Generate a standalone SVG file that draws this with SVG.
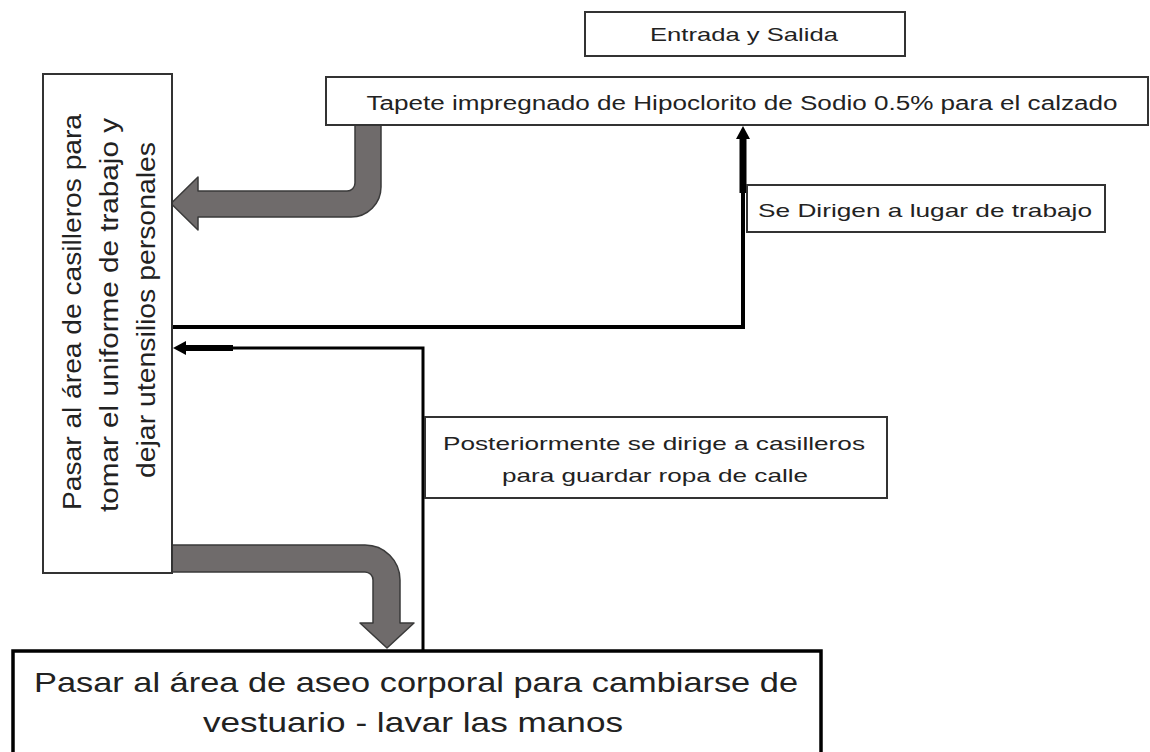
<svg xmlns="http://www.w3.org/2000/svg" width="1150" height="752" viewBox="0 0 1150 752">
<style>
.box{fill:#fff;stroke:#333;stroke-width:2}
.t{font-family:"Liberation Sans",Arial,sans-serif;fill:#222;text-anchor:middle}
.gray{fill:#6f6b6b;stroke:#3a3a3a;stroke-width:1.5;stroke-linejoin:round}
.ln{fill:none;stroke:#000}
</style>
<rect width="1150" height="752" fill="#fff"/>
<g id="connectors">
  <path class="gray" d="M355,125 L381,125 L381,187 A30,30 0 0 1 351,217 L198,217 L198,230 L171,203.5 L198,177 L198,191 L347,191 A8,8 0 0 0 355,183 Z"/>
  <path class="gray" d="M172,545 L365,545 A35,35 0 0 1 400,580 L400,623 L414,623 L387,648 L360,623 L373,623 L373,580 A8,8 0 0 0 365,572 L172,572 Z"/>
  <polyline class="ln" stroke-width="4" points="172,327 743,327 743,136"/>
  <rect x="739.5" y="136" width="7" height="57" fill="#000"/>
  <path d="M743,126 L750,139 L736,139 Z" fill="#000"/>
  <polyline class="ln" stroke-width="3" points="423,652 423,348 233,348"/>
  <rect x="184" y="345" width="49" height="6" fill="#000"/>
  <path d="M173,348 L186,341 L186,355 Z" fill="#000"/>
</g>
<g id="entrada">
  <rect class="box" x="585" y="12" width="320" height="44"/>
  <text class="t" x="744" y="41" font-size="19" textLength="188" lengthAdjust="spacingAndGlyphs">Entrada y Salida</text>
</g>
<g id="tapete">
  <rect class="box" x="326" y="77" width="822" height="48"/>
  <text class="t" x="742" y="110" font-size="20" textLength="751" lengthAdjust="spacingAndGlyphs">Tapete impregnado de Hipoclorito de Sodio 0.5% para el calzado</text>
</g>
<g id="casilleros">
  <rect class="box" x="43" y="74" width="129" height="499"/>
  <text class="t" font-size="25" transform="translate(81,312) rotate(-90)" textLength="396" lengthAdjust="spacingAndGlyphs">Pasar al área de casilleros para</text>
  <text class="t" font-size="25" transform="translate(118,315) rotate(-90)" textLength="394" lengthAdjust="spacingAndGlyphs">tomar el uniforme de trabajo y</text>
  <text class="t" font-size="25" transform="translate(155,310) rotate(-90)" textLength="336" lengthAdjust="spacingAndGlyphs">dejar utensilios personales</text>
</g>
<g id="dirigen">
  <rect class="box" x="747" y="185" width="358" height="47"/>
  <text class="t" x="925" y="217" font-size="19" textLength="334" lengthAdjust="spacingAndGlyphs">Se Dirigen a lugar de trabajo</text>
</g>
<g id="posteriormente">
  <rect class="box" x="425" y="417" width="462" height="81"/>
  <text class="t" x="654" y="450" font-size="19" textLength="422" lengthAdjust="spacingAndGlyphs">Posteriormente se dirige a casilleros</text>
  <text class="t" x="655" y="482" font-size="19" textLength="306" lengthAdjust="spacingAndGlyphs">para guardar ropa de calle</text>
</g>
<g id="aseo">
  <rect x="13" y="651" width="808" height="105" fill="#fff" stroke="#000" stroke-width="3.5"/>
  <text class="t" x="416" y="692" font-size="28" textLength="764" lengthAdjust="spacingAndGlyphs">Pasar al área de aseo corporal para cambiarse de</text>
  <text class="t" x="413" y="732" font-size="28" textLength="420" lengthAdjust="spacingAndGlyphs">vestuario - lavar las manos</text>
</g>
</svg>
